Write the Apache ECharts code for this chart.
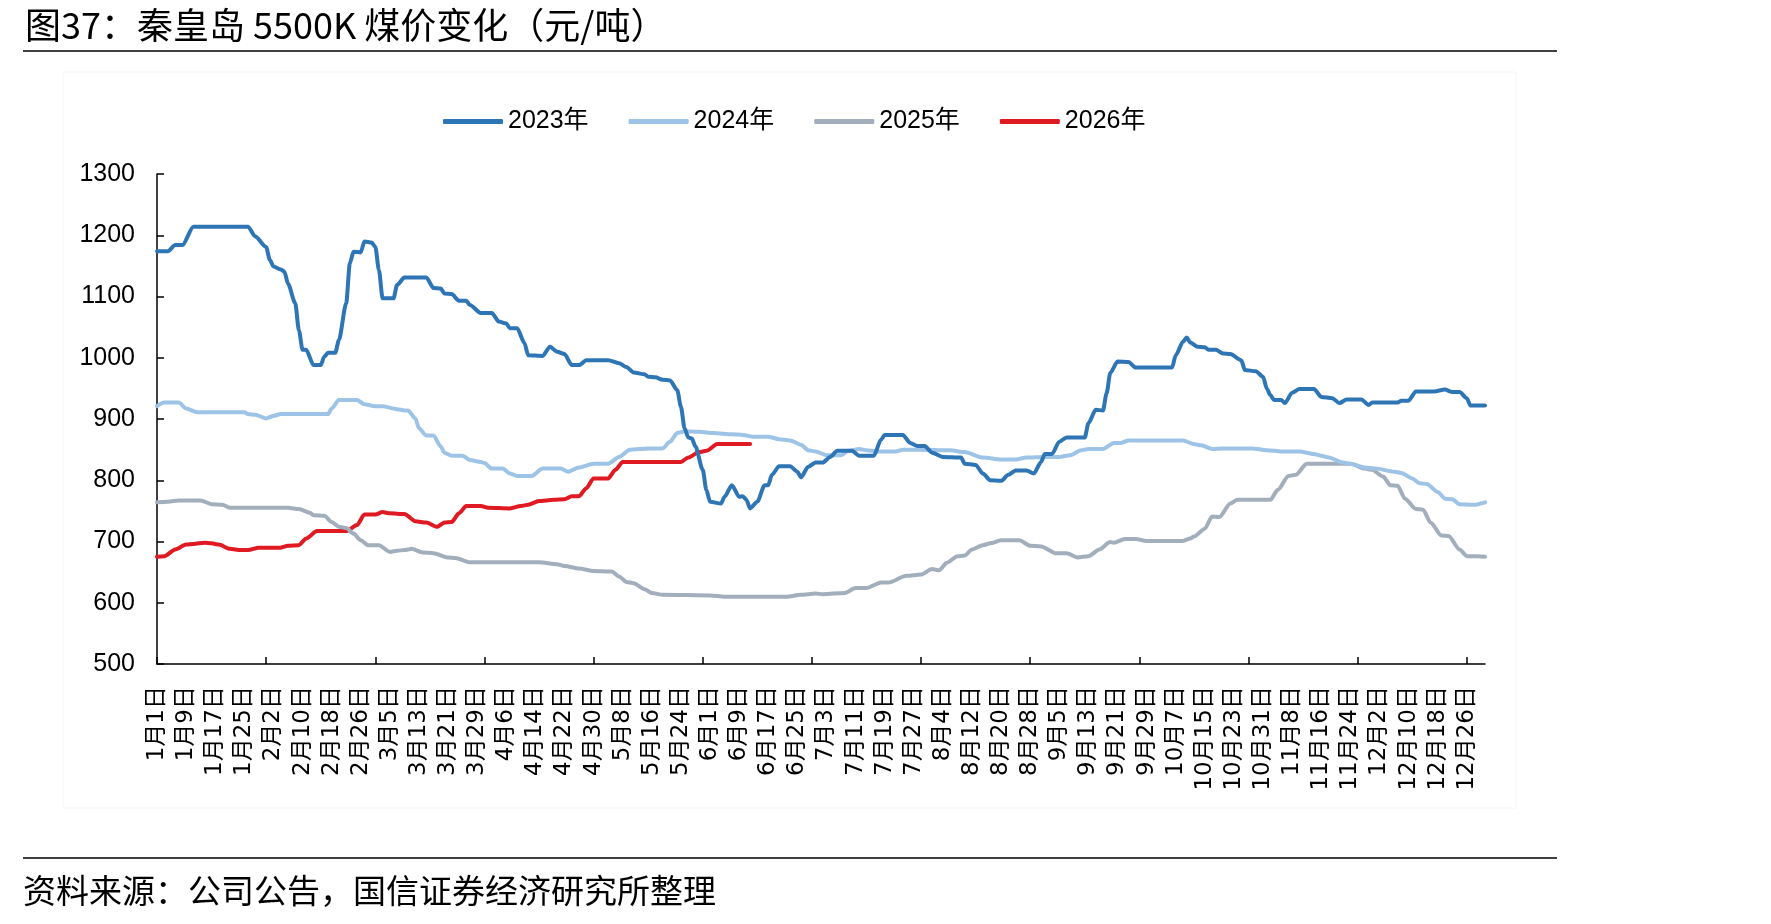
<!DOCTYPE html>
<html>
<head>
<meta charset="utf-8">
<script src="https://cdn.jsdelivr.net/npm/echarts@6/dist/echarts.min.js"></script>
<style>
  html, body { margin: 0; padding: 0; background: #fff; }
  #chart { width: 1771px; height: 924px; }
</style>
</head>
<body>
<div id="chart"></div>
<script>
// x axis is a leap-year calendar, one category per day
const monthDays = [31, 29, 31, 30, 31, 30, 31, 31, 30, 31, 30, 31]
const seriesNames = ['2023年', '2024年', '2025年', '2026年']
const yTicks = { min: 500, max: 1300, step: 100 }

// [day index, price]
const price2023 = [[0,1174],[3,1174],[5,1184],[7,1184],[10,1214],[25,1214],[27,1198],[30,1181],[31,1160],[32,1149],[34,1144],[35,1141],[36,1121],[38,1089],[39,1045],[40,1013],[41,1013],[43,988],[45,988],[46,1002],[47,1008],[49,1008],[50,1029],[52,1089],[53,1154],[54,1173],[56,1172],[57,1190],[59,1188],[60,1181],[61,1143],[62,1097],[65,1097],[66,1119],[68,1131],[74,1131],[76,1114],[78,1113],[79,1105],[81,1104],[83,1093],[85,1093],[86,1086],[89,1073],[92,1073],[94,1059],[96,1056],[97,1048],[99,1048],[101,1024],[102,1004],[106,1003],[108,1018],[110,1010],[112,1006],[114,988],[116,988],[118,996],[124,996],[127,991],[129,985],[131,976],[134,973],[135,969],[137,968],[139,964],[141,963],[143,947],[144,920],[145,885],[146,870],[147,868],[148,855],[150,817],[151,784],[152,765],[155,762],[156,773],[158,792],[160,773],[161,774],[162,768],[163,754],[165,765],[167,792],[168,792],[169,809],[171,823],[174,823],[176,814],[177,805],[179,822],[181,829],[183,829],[185,838],[187,848],[191,848],[193,840],[197,840],[199,866],[200,874],[205,874],[207,861],[209,856],[211,856],[213,845],[216,838],[221,837],[222,827],[225,825],[227,811],[229,800],[232,799],[234,809],[236,816],[239,816],[241,811],[243,830],[244,843],[246,843],[248,863],[250,870],[255,870],[256,893],[258,915],[260,914],[261,942],[262,975],[264,994],[267,993],[269,984],[279,984],[280,1004],[282,1026],[283,1033],[284,1025],[286,1018],[288,1017],[289,1013],[291,1013],[293,1007],[295,1006],[298,996],[299,980],[302,978],[304,969],[305,950],[306,939],[307,931],[309,931],[310,926],[312,943],[314,949],[318,949],[320,936],[323,934],[325,926],[327,932],[331,932],[333,923],[334,927],[341,927],[342,930],[344,930],[346,945],[351,945],[354,948],[356,944],[358,944],[360,934],[361,922],[365,922]]

const price2024 = [[0,921],[2,927],[6,927],[8,917],[11,911],[24,911],[25,908],[27,907],[30,901],[32,905],[34,908],[47,908],[48,917],[50,931],[55,931],[57,924],[60,921],[62,921],[66,916],[68,914],[69,914],[71,901],[72,885],[74,873],[76,873],[78,855],[79,845],[81,840],[84,840],[86,833],[89,830],[90,828],[92,819],[95,819],[97,811],[99,807],[103,807],[106,819],[111,819],[113,814],[116,821],[120,827],[124,827],[127,838],[130,850],[135,852],[139,852],[141,863],[143,877],[145,880],[149,879],[153,877],[158,875],[161,874],[164,871],[168,871],[171,867],[174,865],[177,858],[179,849],[181,847],[184,841],[188,841],[190,848],[193,851],[195,849],[198,847],[203,847],[205,850],[209,850],[218,849],[222,846],[227,837],[232,834],[236,834],[239,837],[244,838],[248,838],[251,841],[254,849],[256,851],[260,851],[263,861],[265,861],[267,865],[282,865],[285,859],[287,857],[290,851],[293,852],[301,852],[305,849],[309,847],[314,847],[318,843],[320,840],[322,837],[326,829],[328,827],[332,821],[335,819],[340,814],[342,812],[345,803],[347,795],[349,794],[352,781],[354,770],[356,769],[358,761],[362,760],[365,764]]

const price2025 = [[0,764],[3,765],[6,767],[12,767],[15,761],[18,760],[20,755],[36,755],[39,753],[42,747],[43,743],[46,742],[48,732],[50,724],[52,722],[54,713],[56,702],[58,694],[61,694],[64,683],[66,685],[68,686],[70,688],[73,682],[76,681],[80,674],[82,673],[86,666],[105,666],[110,663],[112,660],[116,656],[120,652],[125,651],[127,643],[129,634],[131,632],[134,622],[136,616],[139,613],[152,612],[156,610],[173,610],[177,613],[181,615],[183,614],[189,616],[192,624],[195,624],[199,633],[201,633],[206,644],[210,646],[213,655],[215,653],[217,665],[220,676],[222,677],[224,687],[227,694],[229,697],[232,702],[237,702],[240,693],[243,692],[247,681],[250,681],[253,674],[256,676],[259,687],[262,699],[263,698],[266,704],[269,704],[272,701],[282,701],[284,705],[285,708],[288,721],[290,741],[292,740],[295,762],[297,768],[306,768],[308,784],[311,807],[313,809],[316,827],[328,827],[332,819],[334,817],[337,806],[339,792],[341,791],[343,770],[346,753],[348,752],[350,731],[353,710],[355,709],[358,687],[360,676],[363,676],[365,675]]

const price2026 = [[0,675],[2,676],[5,687],[8,695],[10,696],[13,698],[15,697],[17,695],[20,688],[23,686],[25,686],[28,690],[34,690],[36,693],[39,694],[41,705],[44,717],[52,717],[55,727],[57,744],[60,744],[62,748],[64,746],[68,745],[71,733],[74,731],[77,724],[79,731],[81,732],[83,746],[85,758],[89,758],[91,755],[97,754],[100,758],[102,760],[105,766],[109,768],[112,769],[114,774],[116,774],[118,787],[120,803],[124,803],[126,817],[128,830],[144,830],[146,837],[149,846],[151,848],[154,859],[163,859]]

const colors = ['#2E75B6', '#9DC3E6', '#A3AEBD', '#E01A22']

let days = []
monthDays.forEach((n, m) => {
  for (let d = 1; d <= n; d++) {
    days.push((m + 1) + '月' + d + '日')
  }
})

const chart = echarts.init(document.getElementById('chart'))

const cjk = "'Noto Sans CJK SC', sans-serif"
const latin = "'Liberation Sans', 'Noto Sans CJK SC', sans-serif"

const makeSeries = (name, data, i) => ({
  name: name,
  type: 'line',
  data: data,
  showSymbol: false,
  symbol: 'none',
  smooth: 0.25,
  smoothMonotone: 'x',
  lineStyle: { width: 4, color: colors[i], cap: 'round', join: 'round' },
  itemStyle: { color: colors[i] },
  z: 10 - i
})

const option = {
  animation: false,
  backgroundColor: '#fff',
  title: {
    text: '图37：秦皇岛 5500K 煤价变化（元/吨）',
    left: 20,
    top: 2,
    textStyle: { fontFamily: cjk, fontSize: 36, fontWeight: 'normal', color: '#000' }
  },
  legend: {
    data: seriesNames,
    top: 104,
    left: 438,
    icon: 'roundRect',
    itemWidth: 60,
    itemHeight: 5,
    itemGap: 40,
    textStyle: { fontFamily: latin, fontSize: 25, color: '#000' }
  },
  grid: { left: 157, right: 286, top: 174, bottom: 260, containLabel: false },
  xAxis: {
    type: 'category',
    data: days,
    boundaryGap: false,
    axisLine: { lineStyle: { color: '#000', width: 1.5 } },
    axisTick: { inside: true, length: 7, interval: 29, lineStyle: { color: '#000', width: 1.5 } },
    axisLabel: {
      interval: 7,
      rotate: 90,
      margin: 22,
      fontFamily: "'DejaVu Sans', 'Noto Sans CJK SC', sans-serif",
      fontSize: 23,
      color: '#000'
    },
    splitLine: { show: false }
  },
  yAxis: {
    type: 'value',
    min: yTicks.min,
    max: yTicks.max,
    interval: yTicks.step,
    axisLine: { show: true, lineStyle: { color: '#000', width: 1.5 } },
    axisTick: { show: true, inside: true, length: 7, lineStyle: { color: '#000', width: 1.5 } },
    axisLabel: { margin: 22, fontFamily: latin, fontSize: 25, color: '#000', formatter: v => String(v) },
    splitLine: { show: false }
  },
  series: [
    makeSeries(seriesNames[0], price2023, 0),
    makeSeries(seriesNames[1], price2024, 1),
    makeSeries(seriesNames[2], price2025, 2),
    makeSeries(seriesNames[3], price2026, 3)
  ],
  graphic: [
    { type: 'line', shape: { x1: 23, y1: 51, x2: 1557, y2: 51 }, style: { stroke: '#000', lineWidth: 1.5 } },
    { type: 'rect', shape: { x: 63, y: 72, width: 1453, height: 736 }, style: { fill: 'none', stroke: '#f6f6f6', lineWidth: 1 } },
    { type: 'line', shape: { x1: 23, y1: 858, x2: 1557, y2: 858 }, style: { stroke: '#000', lineWidth: 1.5 } },
    {
      type: 'text', left: 23, top: 874,
      style: { text: '资料来源：公司公告，国信证券经济研究所整理', font: "33px 'Noto Sans CJK SC'", fill: '#000' }
    }
  ]
}

chart.setOption(option)
</script>
</body>
</html>
